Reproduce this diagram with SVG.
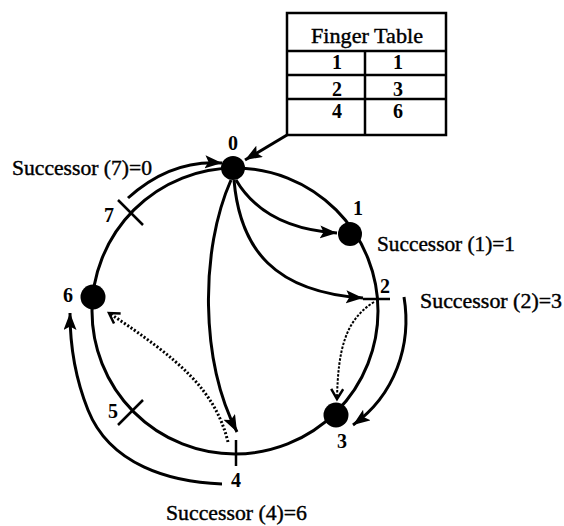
<svg xmlns="http://www.w3.org/2000/svg" width="564" height="526" viewBox="0 0 564 526">
  <style>
    .ring { fill: none; stroke: #000; stroke-width: 3; }
    .dot { fill: #000; }
    .tick { stroke: #000; stroke-width: 2.5; stroke-linecap: butt; }
    .edge { fill: none; stroke: #000; stroke-width: 3; }
    .dotted { fill: none; stroke: #000; stroke-width: 3; stroke-dasharray: 2 2; }
    .dotted-thin { fill: none; stroke: #000; stroke-width: 2; stroke-dasharray: 2.5 1.5; }
    .num { font-family: "Liberation Serif", "Times New Roman", serif; font-size: 20px; font-weight: bold; fill: #000; text-anchor: middle; }
    .lbl { font-family: "Liberation Serif", "Times New Roman", serif; font-size: 21px; fill: #000; stroke: #000; stroke-width: 0.4; }
    .grid { fill: none; stroke: #000; stroke-width: 2.5; }
  </style>
  <defs>
    <marker id="head" markerUnits="userSpaceOnUse" markerWidth="20" markerHeight="14" refX="17" refY="6.5" orient="auto">
      <path d="M0,0 L17,6.5 L0,13 L3.5,6.5 z" fill="#000"/>
    </marker>
    <marker id="chevron" markerUnits="userSpaceOnUse" markerWidth="14" markerHeight="16" refX="11" refY="7" orient="auto">
      <path d="M1,1 L11,7 L1,13" fill="none" stroke="#000" stroke-width="2.5"/>
    </marker>
  </defs>

  <rect width="564" height="526" fill="#fff"/>

  <!-- identifier ring -->
  <circle class="ring" cx="235" cy="311" r="143"/>

  <!-- finger table of node 0 -->
  <g id="finger-table">
    <rect class="grid" x="287" y="13" width="159" height="122"/>
    <line class="grid" x1="287" y1="51" x2="446" y2="51" stroke-width="3"/>
    <line class="grid" x1="287" y1="75" x2="446" y2="75"/>
    <line class="grid" x1="287" y1="99" x2="446" y2="99"/>
    <line class="grid" x1="365" y1="51" x2="365" y2="135"/>
    <text class="lbl" x="367" y="43" text-anchor="middle" textLength="112" lengthAdjust="spacingAndGlyphs">Finger Table</text>
    <text class="num" x="337" y="69">1</text>
    <text class="num" x="398" y="69">1</text>
    <text class="num" x="337" y="96">2</text>
    <text class="num" x="398" y="96">3</text>
    <text class="num" x="337" y="118">4</text>
    <text class="num" x="398" y="118">6</text>
  </g>

  <!-- connectors -->
  <g id="connectors">
    <line class="edge" x1="287" y1="135" x2="245" y2="160" marker-end="url(#head)"/>
    <path class="edge" d="M236,180 C255,212 290,230 337,233" marker-end="url(#head)"/>
    <path class="edge" d="M234,180 C240,250 275,292 363,298" marker-end="url(#head)"/>
    <path class="edge" d="M231,180 C200,250 200,360 237,432" marker-end="url(#head)"/>
    <path class="edge" d="M128,198 C150,178 180,160 222,163" marker-end="url(#head)"/>
    <path class="edge" d="M404,297 C412,345 395,395 353,425" marker-end="url(#head)"/>
    <path class="edge" d="M222,484 C170,482 110,465 88,410 C78,385 70,350 70,313" marker-end="url(#head)"/>
    <path class="dotted-thin" d="M374,302 C345,320 338,350 337,399" marker-end="url(#chevron)"/>
    <path class="dotted" d="M228,442 C215,390 180,360 109,313" marker-end="url(#chevron)"/>
  </g>

  <!-- ring positions -->
  <g id="node-0">
    <circle class="dot" cx="233" cy="168" r="12"/>
    <text class="num" x="233" y="150">0</text>
  </g>
  <g id="node-1">
    <circle class="dot" cx="350" cy="234" r="12"/>
    <text class="num" x="358" y="215">1</text>
  </g>
  <g id="node-2">
    <line class="tick" x1="363" y1="299" x2="390" y2="299"/>
    <text class="num" x="385" y="293">2</text>
  </g>
  <g id="node-3">
    <circle class="dot" cx="336" cy="415" r="12.5"/>
    <text class="num" x="342" y="448">3</text>
  </g>
  <g id="node-4">
    <line class="tick" x1="236" y1="440" x2="236" y2="466"/>
    <text class="num" x="236" y="487">4</text>
  </g>
  <g id="node-5">
    <line class="tick" x1="118" y1="425" x2="143" y2="400"/>
    <text class="num" x="113" y="418">5</text>
  </g>
  <g id="node-6">
    <circle class="dot" cx="93" cy="297" r="12.5"/>
    <text class="num" x="68" y="302">6</text>
  </g>
  <g id="node-7">
    <line class="tick" x1="118" y1="200" x2="143" y2="225"/>
    <text class="num" x="109" y="222">7</text>
  </g>

  <!-- successor annotations -->
  <g id="successor-labels">
    <text class="lbl" x="12" y="175" textLength="140" lengthAdjust="spacingAndGlyphs">Successor (7)=0</text>
    <text class="lbl" x="377" y="251" textLength="138" lengthAdjust="spacingAndGlyphs">Successor (1)=1</text>
    <text class="lbl" x="420" y="308" textLength="142" lengthAdjust="spacingAndGlyphs">Successor (2)=3</text>
    <text class="lbl" x="166" y="520" textLength="141" lengthAdjust="spacingAndGlyphs">Successor (4)=6</text>
  </g>
</svg>
